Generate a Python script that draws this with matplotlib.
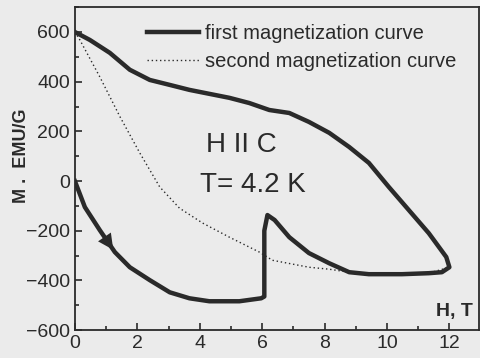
import matplotlib.pyplot as plt
from matplotlib.ticker import MultipleLocator

plt.rcParams['font.family'] = ['Liberation Sans', 'DejaVu Sans']

# first magnetization curve (path order: 0 -> 12 T, then back to 0)
h_first = [0, 0.32, 0.8, 1.28, 1.76, 2.4, 3.04, 3.67, 4.31, 5.27, 5.97, 6.07, 6.07, 6.17,
           6.4, 6.87, 7.5, 8.15, 8.79, 9.42, 10.48, 11.34, 11.76, 12.0,
           11.9, 11.34, 10.7, 10.06, 9.42, 8.79, 8.15, 7.5, 6.87, 6.23, 5.59, 4.95,
           4.31, 3.67, 3.04, 2.4, 1.76, 1.12, 0.48, 0]
m_first = [0, -105, -198, -286, -347, -399, -448, -472, -484, -484, -472, -465, -200, -137,
           -157, -226, -290, -331, -367, -375, -375, -371, -367, -347,
           -306, -210, -117, -24, 73, 137, 194, 238, 274, 286, 314, 335,
           351, 367, 387, 407, 448, 516, 568, 600]

# second magnetization curve
h_second = [0, 0.16, 0.8, 1.44, 2.08, 2.72, 3.35, 4.09, 4.95, 5.91, 6.33, 7.5, 8.15,
            8.79, 9.42, 10.48, 11.34, 12.0]
m_second = [600, 568, 419, 260, 113, -24, -109, -169, -226, -286, -319, -347, -355,
            -367, -375, -375, -371, -347]

bg = '#ebebeb'
ink = '#2a2a2a'

fig = plt.figure(figsize=(4.8, 3.58), dpi=100, facecolor=bg)
ax = fig.add_axes([0.156, 0.078, 0.842, 0.902], facecolor=bg)

ax.plot(h_first, m_first, color=ink, lw=3.2, solid_joinstyle='round',
        label='first magnetization curve', zorder=3)
ax.plot(h_second, m_second, color=ink, lw=1.0, ls=(0, (1, 2)),
        label='second magnetization curve', zorder=2)

# arrow on the first branch
ax.annotate('', xy=(h_first[3], m_first[3]), xytext=(h_first[2], m_first[2]),
            arrowprops=dict(arrowstyle='-|>', color=ink, lw=0, mutation_scale=28))

ax.set_xlim(0, 12.95)
ax.set_ylim(-600, 700)
ax.xaxis.set_major_locator(MultipleLocator(2))
ax.xaxis.set_minor_locator(MultipleLocator(1))
ax.yaxis.set_major_locator(MultipleLocator(200))
ax.yaxis.set_minor_locator(MultipleLocator(100))
ax.tick_params(which='both', direction='in', colors=ink, labelsize=14, width=1.2)
ax.tick_params(which='major', length=5)
ax.tick_params(which='minor', length=3)
for s in ax.spines.values():
    s.set_color(ink)
    s.set_linewidth(1.3)

ax.text(5.35, 145, 'H II C', fontsize=20, color=ink, ha='center', va='center')
ax.text(5.7, -15, 'T= 4.2 K', fontsize=20, color=ink, ha='center', va='center')

fig.text(0.045, 0.565, 'M .  EMU/G', rotation=90, fontsize=13, fontweight='bold',
         color=ink, ha='center', va='center')
ax.text(12.15, -525, 'H, T', fontsize=14, fontweight='bold', color=ink,
        ha='center', va='center')

leg = ax.legend(loc='upper left', bbox_to_anchor=(0.158, 0.972), frameon=False, fontsize=14.5,
                handlelength=2.6, labelspacing=0.45, handletextpad=0.3, borderaxespad=0.2,
                borderpad=0.2)
for t in leg.get_texts():
    t.set_color(ink)

fig.savefig('out.png', dpi=100, facecolor=bg)
